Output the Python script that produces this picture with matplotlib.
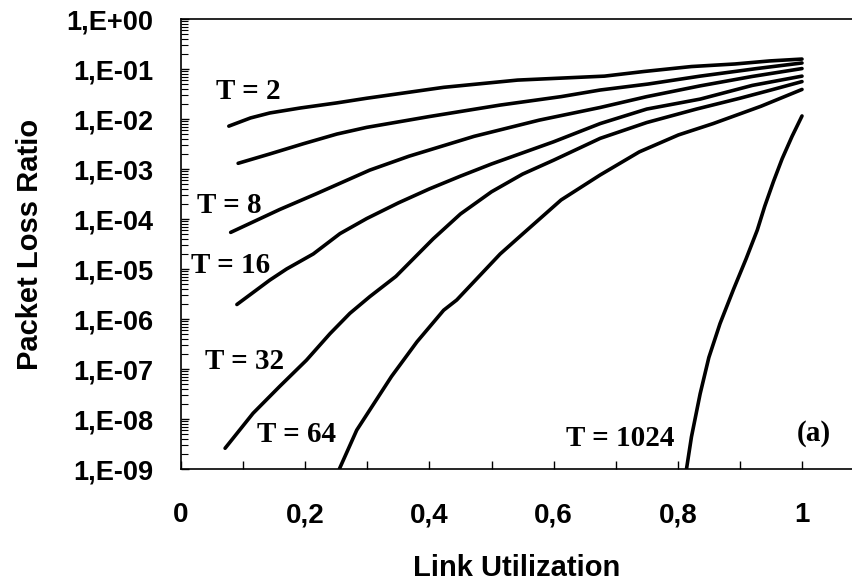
import matplotlib
matplotlib.use("Agg")
import matplotlib.pyplot as plt
from matplotlib.ticker import LogLocator, NullFormatter, FixedLocator

# Dados (utilização do link x taxa de perda de pacotes)
x_t2 = [0.077, 0.112, 0.143, 0.192, 0.251, 0.299, 0.423, 0.542, 0.682, 0.745, 0.822, 0.892, 0.948, 1.0]
y_t2 = [7.2e-3, 1.05e-2, 1.32e-2, 1.66e-2, 2.1e-2, 2.6e-2, 4.3e-2, 6.0e-2, 7.2e-2, 8.9e-2, 0.112, 0.126, 0.145, 0.158]

x_t4 = [0.092, 0.143, 0.197, 0.251, 0.299, 0.40, 0.47, 0.514, 0.612, 0.675, 0.752, 0.836, 0.927, 1.0]
y_t4 = [1.3e-3, 2.0e-3, 3.2e-3, 5.0e-3, 6.8e-3, 1.12e-2, 1.55e-2, 1.9e-2, 2.8e-2, 3.8e-2, 5.0e-2, 7.2e-2, 0.102, 0.132]

x_t8 = [0.080, 0.159, 0.218, 0.304, 0.367, 0.472, 0.577, 0.675, 0.75, 0.836, 0.92, 1.0]
y_t8 = [5.4e-5, 1.55e-4, 3.2e-4, 9.5e-4, 1.8e-3, 4.5e-3, 9.5e-3, 1.7e-2, 2.8e-2, 4.6e-2, 7.1e-2, 0.102]

x_t16 = [0.090, 0.143, 0.170, 0.213, 0.256, 0.299, 0.35, 0.40, 0.45, 0.50, 0.55, 0.60, 0.675, 0.75, 0.836, 0.92, 1.0]
y_t16 = [1.95e-6, 6.0e-6, 1.0e-5, 2.0e-5, 5.1e-5, 1.02e-4, 2.1e-4, 4.0e-4, 7.2e-4, 1.26e-3, 2.1e-3, 3.5e-3,
         8.1e-3, 1.58e-2, 2.5e-2, 4.7e-2, 7.2e-2]

x_t32 = [0.071, 0.116, 0.159, 0.202, 0.240, 0.272, 0.304, 0.346, 0.406, 0.45, 0.50, 0.55, 0.60, 0.675,
         0.75, 0.83, 0.90, 0.95, 1.0]
y_t32 = [2.6e-9, 1.3e-8, 4.5e-8, 1.5e-7, 5.1e-7, 1.3e-6, 2.8e-6, 7.1e-6, 4.0e-5, 1.26e-4, 3.5e-4, 7.9e-4,
         1.5e-3, 4.1e-3, 8.5e-3, 1.58e-2, 2.6e-2, 3.8e-2, 5.6e-2]

x_t64 = [0.255, 0.283, 0.339, 0.38, 0.423, 0.444, 0.514, 0.55, 0.612, 0.675, 0.738, 0.801, 0.857, 0.934, 1.0]
y_t64 = [1.0e-9, 6.0e-9, 7.1e-8, 3.5e-7, 1.5e-6, 2.4e-6, 2.0e-5, 5.0e-5, 2.4e-4, 7.6e-4, 2.2e-3, 4.8e-3,
         8.1e-3, 1.8e-2, 3.9e-2]

x_t1024 = [0.814, 0.822, 0.836, 0.850, 0.868, 0.890, 0.910, 0.928, 0.940, 0.954, 0.968, 0.984, 1.0]
y_t1024 = [1.0e-9, 4.4e-9, 3.2e-8, 1.7e-7, 8.1e-7, 4.0e-6, 1.6e-5, 6.0e-5, 1.8e-4, 5.6e-4, 1.6e-3, 4.5e-3, 1.15e-2]

series = [(x_t2, y_t2), (x_t4, y_t4), (x_t8, y_t8), (x_t16, y_t16),
          (x_t32, y_t32), (x_t64, y_t64), (x_t1024, y_t1024)]

# rótulos das curvas: texto, x, y
rotulos = [("T = 2", 0.108, 3.5e-2), ("T = 8", 0.077, 1.9e-4), ("T = 16", 0.080, 1.15e-5),
           ("T = 32", 0.102, 1.4e-7), ("T = 64", 0.186, 5.0e-9), ("T = 1024", 0.707, 4.0e-9),
           ("(a)", 1.019, 5.2e-9)]

yticks = [1e0, 1e-1, 1e-2, 1e-3, 1e-4, 1e-5, 1e-6, 1e-7, 1e-8, 1e-9]
ytick_labels = ["1,E+00", "1,E-01", "1,E-02", "1,E-03", "1,E-04",
                "1,E-05", "1,E-06", "1,E-07", "1,E-08", "1,E-09"]
xticks = [0, 0.2, 0.4, 0.6, 0.8, 1.0]
xtick_labels = ["0", "0,2", "0,4", "0,6", "0,8", "1"]
xticks_minor = [0.1, 0.3, 0.5, 0.7, 0.9]

sans = "Liberation Sans"
serif = "Liberation Serif"

fig = plt.figure(figsize=(8.52, 5.84), dpi=100)
ax = fig.add_axes([181 / 852, 1 - 469 / 584, 671 / 852, 450 / 584])

for xs, ys in series:
    ax.plot(xs, ys, color="black", linewidth=2.6, solid_capstyle="round")

for texto, tx, ty in rotulos:
    ax.text(tx, ty, texto, fontsize=21, fontweight="bold", family=serif,
            ha="center", va="center")

ax.set_yscale("log")
ax.set_ylim(1e-9, 1)
ax.set_xlim(0, 671 / 621)

ax.set_yticks(yticks)
ax.set_yticklabels(ytick_labels, fontsize=19.5, fontweight="bold", family=sans)
ax.yaxis.set_minor_locator(LogLocator(base=10, subs=[2, 3, 4, 5, 6, 7, 8, 9], numticks=20))
ax.yaxis.set_minor_formatter(NullFormatter())

ax.set_xticks(xticks)
ax.set_xticklabels(xtick_labels, fontsize=20, fontweight="bold", family=sans)
ax.xaxis.set_minor_locator(FixedLocator(xticks_minor))

ax.tick_params(axis="y", which="major", direction="in", length=6, width=1, pad=20)
ax.tick_params(axis="y", which="minor", direction="in", length=5, width=0.8)
ax.tick_params(axis="x", which="both", direction="in", length=6, width=1, pad=24)

ax.spines["right"].set_visible(False)
for s in ["left", "bottom", "top"]:
    ax.spines[s].set_linewidth(1.2)

ax.set_xlabel("Link Utilization", fontsize=21, fontweight="bold", family=sans)
ax.xaxis.set_label_coords(0.5, -0.19)
ax.set_ylabel("Packet Loss Ratio", fontsize=21, fontweight="bold", family=sans)
ax.yaxis.set_label_coords(-0.204, 0.5)

fig.savefig("out.png", dpi=100)
